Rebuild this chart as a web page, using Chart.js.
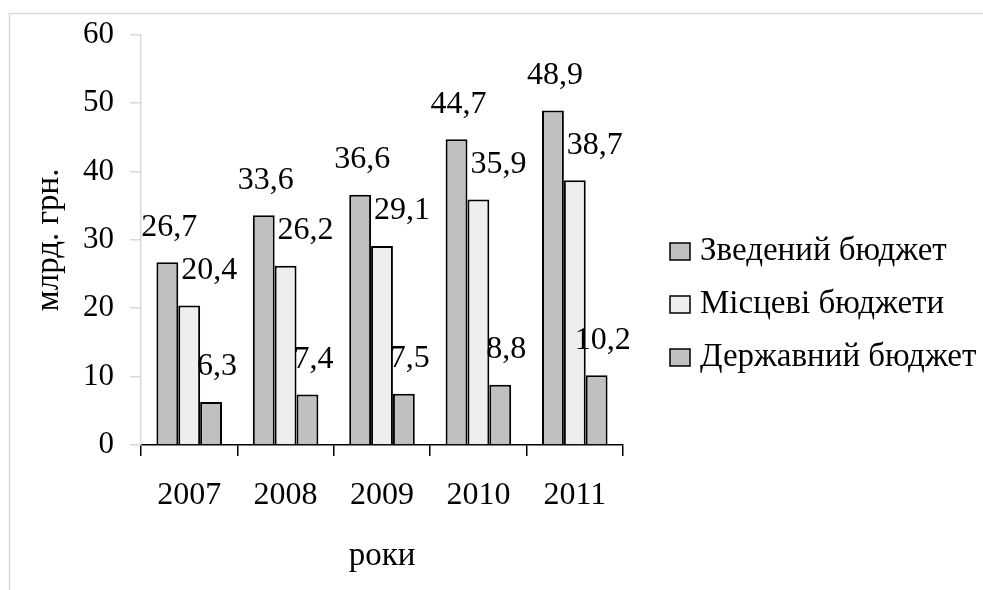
<!DOCTYPE html>
<html>
<head>
<meta charset="utf-8">
<script src="https://cdn.jsdelivr.net/npm/chart.js@4.4.1/dist/chart.umd.min.js"></script>
<style>
  html, body { margin: 0; padding: 0; background: #ffffff; }
  #wrap { width: 983px; height: 590px; }
</style>
</head>
<body>
<div id="wrap"><canvas id="c" width="983" height="590"></canvas></div>
<script>
const years = ['2007', '2008', '2009', '2010', '2011'];
const seriesNames = ['Зведений бюджет', 'Місцеві бюджети', 'Державний бюджет'];
const consolidated = [26.7, 33.6, 36.6, 44.7, 48.9];
const local = [20.4, 26.2, 29.1, 35.9, 38.7];
const state = [6.3, 7.4, 7.5, 8.8, 10.2];
const yTicks = [0, 10, 20, 30, 40, 50, 60];
const yTitle = 'млрд. грн.';
const xTitle = 'роки';

const FONT = "'Liberation Serif', 'Times New Roman', serif";
const fills = ['#c0c0c0', '#eeeeee', '#c0c0c0'];
const labelDx = [2, 20, 6];

const framePlugin = {
  id: 'frame',
  beforeDraw(chart) {
    const ctx = chart.ctx;
    ctx.save();
    ctx.fillStyle = '#ffffff';
    ctx.fillRect(0, 0, chart.width, chart.height);
    ctx.strokeStyle = '#d9d9d9';
    ctx.lineWidth = 1.5;
    ctx.beginPath();
    ctx.moveTo(9.5, chart.height);
    ctx.lineTo(9.5, 13.5);
    ctx.lineTo(chart.width, 13.5);
    ctx.stroke();
    ctx.restore();
  }
};

const valueLabels = {
  id: 'valueLabels',
  afterDatasetsDraw(chart) {
    const ctx = chart.ctx;
    ctx.save();
    ctx.font = '32px ' + FONT;
    ctx.fillStyle = '#000000';
    ctx.textAlign = 'center';
    ctx.textBaseline = 'middle';
    chart.data.datasets.forEach((ds, di) => {
      const meta = chart.getDatasetMeta(di);
      meta.data.forEach((el, i) => {
        const txt = ds.data[i].toFixed(1).replace('.', ',');
        ctx.fillText(txt, el.x + labelDx[di], el.y - 35);
      });
    });
    ctx.restore();
  }
};

const customLegend = {
  id: 'customLegend',
  afterDraw(chart) {
    const ctx = chart.ctx;
    ctx.save();
    ctx.font = '33px ' + FONT;
    ctx.textBaseline = 'middle';
    ctx.textAlign = 'left';
    chart.data.datasets.forEach((ds, di) => {
      const cy = 251 + di * 53;
      ctx.fillStyle = ds.backgroundColor;
      ctx.fillRect(670, cy - 8, 20, 17);
      ctx.strokeStyle = '#000000';
      ctx.lineWidth = 1.5;
      ctx.strokeRect(670, cy - 8, 20, 17);
      ctx.fillStyle = '#000000';
      ctx.fillText(ds.label, 700, cy);
    });
    ctx.restore();
  }
};

const datasets = [consolidated, local, state].map((d, i) => ({
  label: seriesNames[i],
  data: d,
  backgroundColor: fills[i],
  borderColor: '#000000',
  borderWidth: 2,
  categoryPercentage: 0.68,
  barPercentage: 1.0
}));

new Chart(document.getElementById('c'), {
  type: 'bar',
  data: { labels: years, datasets },
  options: {
    responsive: false,
    animation: false,
    devicePixelRatio: 1,
    layout: { padding: { top: 34, right: 360, left: 0, bottom: 0 } },
    plugins: {
      legend: { display: false },
      tooltip: { enabled: false }
    },
    scales: {
      x: {
        grid: {
          offset: true,
          drawOnChartArea: false,
          drawTicks: true,
          tickLength: 11,
          color: '#000000',
          lineWidth: 1.5
        },
        border: { display: true, color: '#000000', width: 1.5 },
        ticks: {
          color: '#000000',
          font: { family: FONT, size: 32 },
          padding: 20,
          maxRotation: 0
        },
        title: {
          display: true,
          text: xTitle,
          color: '#000000',
          font: { family: FONT, size: 33 },
          padding: { top: 0, bottom: 14 }
        },
        afterFit(scale) { scale.height = 145; }
      },
      y: {
        min: 0,
        max: 60,
        afterBuildTicks(scale) { scale.ticks = yTicks.map(v => ({ value: v })); },
        grid: {
          drawOnChartArea: false,
          drawTicks: true,
          tickLength: 11,
          color: '#d9d9d9',
          lineWidth: 1.5
        },
        border: { display: true, color: '#d9d9d9', width: 1.5 },
        ticks: {
          color: '#000000',
          font: { family: FONT, size: 31 },
          padding: 16
        },
        title: {
          display: true,
          text: yTitle,
          color: '#000000',
          font: { family: FONT, size: 33 },
          padding: { top: 30, bottom: 0 }
        },
        afterFit(scale) { scale.width = 141; }
      }
    }
  },
  plugins: [framePlugin, valueLabels, customLegend]
});
</script>
</body>
</html>
